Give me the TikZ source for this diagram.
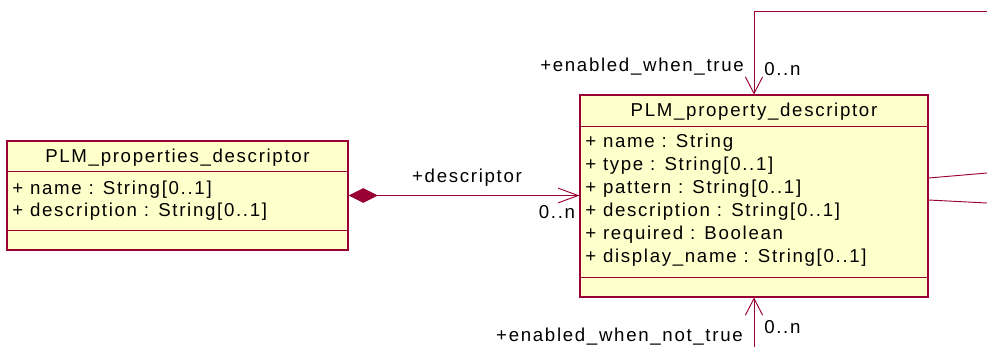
\documentclass[tikz,border=0pt]{standalone}
\usepackage{fontspec}
\setmainfont{Liberation Sans}
\usetikzlibrary{arrows.meta, positioning, calc}

% Rose-like UML colours
\definecolor{umlRed}{RGB}{153,0,51}
\definecolor{umlFill}{RGB}{255,255,204}

\begin{document}
\begin{tikzpicture}[
    x=0.75pt, y=-0.75pt,
    font=\fontsize{14}{16}\selectfont\addfontfeature{LetterSpace=9},
    classbox/.style={draw=umlRed, fill=umlFill, line width=0.8pt, inner sep=0pt},
    sepline/.style={draw=umlRed, line width=0.7pt},
    attr/.style={anchor=west, inner sep=0pt},
    role/.style={inner sep=0pt},
    ownedby/.style={{Diamond[length=22pt, width=11pt, fill=umlRed]}-{Straight Barb[length=15pt, width=11pt]}, line width=0.7pt, draw=umlRed},
    selfref/.style={-{Straight Barb[length=12.5pt, width=13pt]}, line width=0.7pt, draw=umlRed},
]
\useasboundingbox (0,0) rectangle (987,347);

% ===== LEFT: PLM_properties_descriptor =====
\node[classbox, minimum width=255.75pt, minimum height=81.75pt] (props) at (177.5,195.5) {};
\draw[sepline] ($(props.north west)+(0,31)$) -- ($(props.north east)+(0,31)$);
\draw[sepline] ($(props.south west)+(0,-20)$) -- ($(props.south east)+(0,-20)$);
\node (propsName) at ($(props.north)+(0,17.5)$) {PLM\_properties\_descriptor};
\foreach \t/\y [count=\i] in {{+ name : String[0..1]}/189.5, {+ description : String[0..1]}/212} {
    \node[attr] (propsAttr\i) at (12,\y) {\t};
}

% ===== RIGHT: PLM_property_descriptor =====
\node[classbox, minimum width=261pt, minimum height=151.5pt] (prop) at (754,196) {};
\draw[sepline] ($(prop.north west)+(0,31.7)$) -- ($(prop.north east)+(0,31.7)$);
\draw[sepline] ($(prop.south west)+(0,-20)$) -- ($(prop.south east)+(0,-20)$);
\node (propName) at ($(prop.north)+(0,17.5)$) {PLM\_property\_descriptor};
\foreach \t/\y [count=\i] in {{+ name : String}/142.5, {+ type : String[0..1]}/165.5,
    {+ pattern : String[0..1]}/188.5, {+ description : String[0..1]}/211.5,
    {+ required : Boolean}/235, {+ display\_name : String[0..1]}/258} {
    \node[attr] (propAttr\i) at (585,\y) {\t};
}

% composition: properties -> property descriptors
\draw[ownedby] (props.east) -- (props.east -| prop.west);
\node[role] (descRole) at (467,177.5) {+descriptor};
\node[role] (descMult) at (557,212.5) {0..n};

% self references (they leave the picture on the right and at the bottom)
\coordinate (loopTop) at (987,11);
\coordinate (loopBot) at (754,347);
\draw[selfref] (loopTop) -| (prop.north);
\draw[selfref] (loopBot) -- (prop.south);
\node[role, anchor=east] (trueRole) at (744,67) {+enabled\_when\_true};
\node[role, anchor=west] (trueMult) at (764,69.5) {0..n};
\node[role, anchor=east] (notTrueRole) at (743,337) {+enabled\_when\_not\_true};
\node[role, anchor=west] (notTrueMult) at (764,327.5) {0..n};

% links going off to the right
\coordinate (outA) at (987,173);
\coordinate (outB) at (987,203);
\draw[sepline] ($(prop.east)+(0,-18)$) -- (outA);
\draw[sepline] ($(prop.east)+(0,4)$) -- (outB);

\end{tikzpicture}
\end{document}
